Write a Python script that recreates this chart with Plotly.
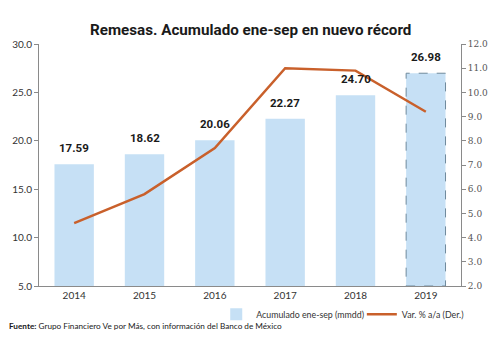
import plotly.graph_objects as go

years = ["2014", "2015", "2016", "2017", "2018", "2019"]
acumulado = [17.59, 18.62, 20.06, 22.27, 24.70, 26.98]
variacion = [4.6, 5.8, 7.7, 11.0, 10.9, 9.2]
bar_labels = ["17.59", "18.62", "20.06", "22.27", "24.70", "26.98"]
left_ticks = [5, 10, 15, 20, 25, 30]
right_ticks = [2, 3, 4, 5, 6, 7, 8, 9, 10, 11, 12]

bar_color = "#c6e0f5"
line_color = "#c9602b"
axis_color = "#8a8a8a"
bargap = 0.44

fig = go.Figure()
fig.add_trace(go.Bar(
    x=years, y=acumulado, name="Acumulado ene-sep (mmdd)",
    marker=dict(color=bar_color, line=dict(width=0)),
    hoverinfo="skip", legend="legend",
))
fig.add_trace(go.Scatter(
    x=years, y=variacion, name="Var. % a/a (Der.)", yaxis="y2",
    mode="lines", line=dict(color=line_color, width=2.5), legend="legend2",
))

# dashed outline on the last (record) bar
last = len(years) - 1
half = (1 - bargap) / 2
fig.add_shape(type="rect", xref="x", yref="y", x0=last - half, x1=last + half,
              y0=left_ticks[0], y1=acumulado[last],
              line=dict(color="#6f8a9c", width=1, dash="dash"), fillcolor="rgba(0,0,0,0)")

for i, (v, t) in enumerate(zip(acumulado, bar_labels)):
    fig.add_annotation(x=i, y=v, text="<b>" + t + "</b>", showarrow=False,
                       yshift=16, font=dict(size=11.5, color="#1a1a1a", family="Roboto"))

fig.add_annotation(xref="paper", yref="paper", x=0.5, y=1.0, yshift=25,
                   text="<b>Remesas. Acumulado ene-sep en nuevo récord</b>",
                   showarrow=False, font=dict(size=15.2, color="#1a1a1a", family="Roboto"))
fig.add_annotation(xref="paper", yref="paper", x=-0.077, xanchor="left", y=-0.165, yanchor="middle",
                   text="<b>Fuente:</b> Grupo Financiero Ve por Más, con información del Banco de México",
                   showarrow=False, font=dict(size=8.2, color="#1a1a1a", family="Lato"))

legend_font = dict(size=8.8, color="#333", family="Lato")
fig.update_layout(
    width=500, height=344,
    margin=dict(l=38, r=33, t=44, b=58),
    paper_bgcolor="white", plot_bgcolor="white",
    bargap=bargap,
    showlegend=True,
    legend=dict(orientation="h", x=0.42, xanchor="left", y=-0.057, yanchor="top",
                font=legend_font, bgcolor="rgba(0,0,0,0)"),
    legend2=dict(orientation="h", x=0.765, xanchor="left", y=-0.057, yanchor="top",
                 font=legend_font, bgcolor="rgba(0,0,0,0)"),
    xaxis=dict(type="category", range=[-0.5, 5.5], showline=True, linecolor=axis_color,
               linewidth=1, ticks="",
               tickfont=dict(size=10, color="#333", family="Lato"), showgrid=False),
    yaxis=dict(range=[5, 30], tickvals=left_ticks, tickformat=".1f", showline=True,
               linecolor=axis_color, ticks="outside", ticklen=4, tickcolor=axis_color,
               showgrid=False, zeroline=False,
               tickfont=dict(size=10, color="#333", family="Lato")),
    yaxis2=dict(range=[2, 12], tickvals=right_ticks, tickformat=".1f", overlaying="y",
                side="right", showline=True, linecolor=axis_color, ticks="outside",
                ticklen=4, tickcolor=axis_color, showgrid=False, zeroline=False,
                tickfont=dict(size=9, color="#555", family="DejaVu Serif")),
)

fig.write_html("out.html")
